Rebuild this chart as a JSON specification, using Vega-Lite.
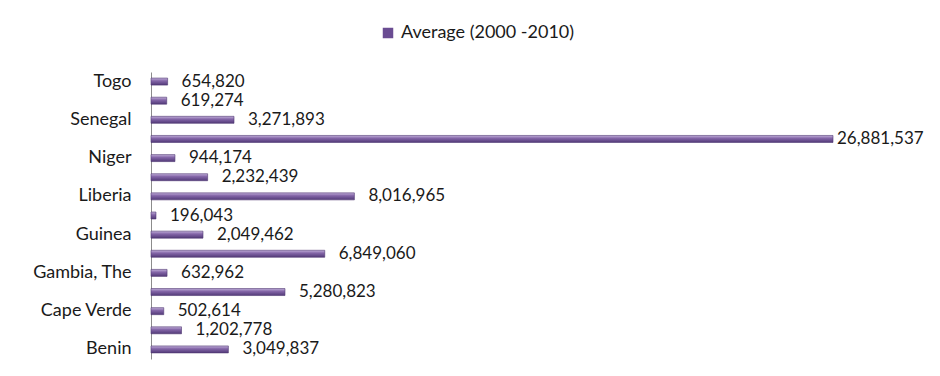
{
  "$schema": "https://vega.github.io/schema/vega-lite/v6.json",
  "width": 682,
  "height": 287,
  "autosize": {"type": "none"},
  "padding": {"left": 151, "top": 72, "right": 107, "bottom": 17},
  "background": "white",
  "config": {"view": {"stroke": null}, "font": "Lato"},
  "data": {
    "values": [
      {"country": "Togo", "value": 654820},
      {"country": "Sierra Leone", "value": 619274},
      {"country": "Senegal", "value": 3271893},
      {"country": "Nigeria", "value": 26881537},
      {"country": "Niger", "value": 944174},
      {"country": "Mali", "value": 2232439},
      {"country": "Liberia", "value": 8016965},
      {"country": "Guinea-Bissau", "value": 196043},
      {"country": "Guinea", "value": 2049462},
      {"country": "Ghana", "value": 6849060},
      {"country": "Gambia, The", "value": 632962},
      {"country": "Cote d'Ivoire", "value": 5280823},
      {"country": "Cape Verde", "value": 502614},
      {"country": "Burkina Faso", "value": 1202778},
      {"country": "Benin", "value": 3049837}
    ]
  },
  "encoding": {
    "y": {
      "field": "country",
      "type": "nominal",
      "sort": null,
      "scale": {"paddingInner": 0.6, "paddingOuter": 0.3},
      "axis": {
        "title": null,
        "values": ["Togo", "Senegal", "Niger", "Liberia", "Guinea", "Gambia, The", "Cape Verde", "Benin"],
        "ticks": false,
        "domainColor": "#8c8c8c",
        "labelFontSize": 18,
        "labelColor": "#1a1a1a",
        "labelPadding": 20,
        "labelFont": "Lato"
      }
    },
    "x": {
      "field": "value",
      "type": "quantitative",
      "scale": {"domain": [0, 26881537], "nice": false},
      "axis": null
    }
  },
  "layer": [
    {
      "mark": {
        "type": "bar",
        "size": 7,
        "stroke": "#4f3872",
        "strokeWidth": 0.6,
        "color": {
          "gradient": "linear",
          "x1": 0, "y1": 0, "x2": 0, "y2": 1,
          "stops": [
            {"offset": 0, "color": "#c2b0da"},
            {"offset": 0.4, "color": "#8466a8"},
            {"offset": 1, "color": "#523a78"}
          ]
        }
      }
    },
    {
      "transform": [{"filter": "datum.value < 0"}],
      "mark": {"type": "bar"},
      "encoding": {
        "color": {
          "datum": "Average (2000 -2010)",
          "type": "nominal",
          "scale": {"range": ["#6a4c92"]},
          "legend": {
            "title": null,
            "orient": "none",
            "legendX": 228,
            "legendY": -48,
            "symbolType": "square",
            "symbolSize": 110,
            "symbolStrokeWidth": 0,
            "symbolOpacity": 1,
            "labelFontSize": 18,
            "labelLimit": 400,
            "labelColor": "#1a1a1a",
            "labelFont": "Lato",
            "labelOffset": 4
          }
        }
      }
    },
    {
      "transform": [{"filter": "datum.value < 20000000"}],
      "mark": {"type": "text", "align": "left", "dx": 14, "fontSize": 17, "color": "#1a1a1a", "font": "Lato"},
      "encoding": {
        "text": {"field": "value", "type": "quantitative", "format": ","}
      }
    },
    {
      "transform": [{"filter": "datum.value >= 20000000"}],
      "mark": {"type": "text", "align": "left", "dx": 4, "fontSize": 17, "color": "#1a1a1a", "font": "Lato"},
      "encoding": {
        "text": {"field": "value", "type": "quantitative", "format": ","}
      }
    }
  ]
}
